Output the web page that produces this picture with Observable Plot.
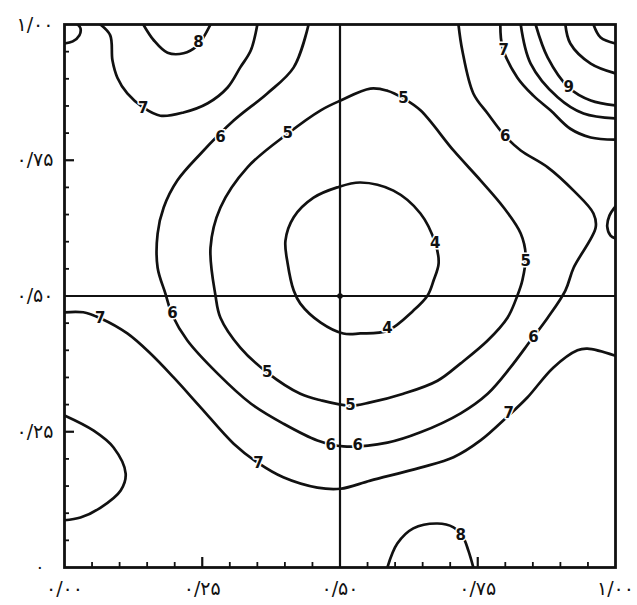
<!DOCTYPE html>
<html>
<head>
<meta charset="utf-8">
<script src="https://cdn.jsdelivr.net/npm/d3@7"></script>
<script src="https://cdn.jsdelivr.net/npm/@observablehq/plot@0.6"></script>
<style>
  body { margin: 0; background: #fff; }
</style>
</head>
<body>
<div id="chart"></div>
<script>
// ---- axis ticks and labels ----
const xTickValues = [0, 0.25, 0.5, 0.75, 1];
const xTickLabels = ["۰/۰۰", "۰/۲۵", "۰/۵۰", "۰/۷۵", "۱/۰۰"];
const yTickValues = [0.25, 0.5, 0.75, 1];
const yTickLabels = ["۰/۲۵", "۰/۵۰", "۰/۷۵", "۱/۰۰"];
const yZeroValue = [0];
const yZeroLabel = "۰";
const minorTicks = [0.05, 0.1, 0.15, 0.2, 0.3, 0.35, 0.4, 0.45, 0.55, 0.6, 0.65, 0.7, 0.8, 0.85, 0.9, 0.95];
const majorTicks = [0.25, 0.75];
const crossLines = [0.5];
const centerPoint = [[0.5, 0.5]];

// ---- contour lines (x, y in data units) ----
// closed loops
const contour4 = [[0.506,0.431],[0.465,0.451],[0.428,0.486],[0.416,0.510],[0.405,0.560],[0.401,0.602],[0.416,0.645],[0.452,0.681],[0.495,0.700],[0.537,0.709],[0.597,0.694],[0.646,0.652],[0.673,0.597],[0.679,0.560],[0.670,0.529],[0.659,0.501],[0.633,0.473],[0.586,0.436],[0.537,0.431]];
const contour5 = [[0.555,0.882],[0.586,0.878],[0.615,0.864],[0.646,0.842],[0.706,0.768],[0.755,0.713],[0.797,0.663],[0.828,0.615],[0.837,0.575],[0.831,0.529],[0.822,0.501],[0.804,0.460],[0.768,0.418],[0.719,0.376],[0.677,0.344],[0.615,0.320],[0.555,0.304],[0.519,0.298],[0.465,0.308],[0.428,0.320],[0.368,0.359],[0.319,0.405],[0.283,0.460],[0.274,0.501],[0.265,0.589],[0.283,0.663],[0.332,0.737],[0.405,0.799],[0.465,0.842],[0.501,0.860]];
// open curves (edge to edge)
const contour6 = [[0.443,1.0],[0.416,0.921],[0.368,0.873],[0.307,0.823],[0.247,0.762],[0.205,0.713],[0.180,0.663],[0.169,0.615],[0.169,0.552],[0.183,0.505],[0.196,0.464],[0.223,0.418],[0.278,0.357],[0.338,0.302],[0.397,0.265],[0.459,0.234],[0.506,0.223],[0.586,0.230],[0.646,0.249],[0.719,0.284],[0.768,0.320],[0.809,0.368],[0.846,0.418],[0.877,0.460],[0.909,0.510],[0.924,0.552],[0.964,0.626],[0.960,0.652],[0.924,0.694],[0.877,0.737],[0.828,0.768],[0.800,0.794],[0.768,0.836],[0.742,0.873],[0.722,0.952],[0.715,1.0]];
const contour7Low = [[0.0,0.470],[0.034,0.470],[0.065,0.459],[0.114,0.431],[0.156,0.394],[0.198,0.350],[0.247,0.295],[0.307,0.228],[0.352,0.192],[0.397,0.166],[0.459,0.147],[0.501,0.145],[0.555,0.160],[0.646,0.184],[0.706,0.203],[0.755,0.234],[0.806,0.280],[0.840,0.313],[0.887,0.368],[0.931,0.400],[0.949,0.403],[1.0,0.390]];
const contour7TopLeft = [[0.065,1.0],[0.083,0.980],[0.087,0.934],[0.096,0.902],[0.114,0.873],[0.143,0.847],[0.174,0.832],[0.216,0.838],[0.260,0.855],[0.296,0.884],[0.319,0.921],[0.338,0.952],[0.350,1.0]];
const contour8Top = [[0.143,1.0],[0.162,0.971],[0.187,0.948],[0.216,0.947],[0.241,0.961],[0.252,0.976],[0.265,1.0]];
const contour7Corner = [[0.0,0.965],[0.015,0.969],[0.027,0.980],[0.029,0.993],[0.024,1.0]];
const contour7Right = [[1.0,0.665],[0.989,0.648],[0.985,0.628],[0.991,0.611],[1.0,0.606]];
const contour8Left = [[0.0,0.280],[0.053,0.252],[0.089,0.221],[0.111,0.173],[0.102,0.142],[0.065,0.110],[0.029,0.092],[0.0,0.087]];
const contour8Bottom = [[0.586,0.0],[0.604,0.044],[0.633,0.072],[0.677,0.081],[0.706,0.074],[0.722,0.059],[0.733,0.031],[0.742,0.0]];
const contour7TopRight = [[0.791,1.0],[0.795,0.958],[0.822,0.902],[0.851,0.869],[0.882,0.842],[0.918,0.808],[0.955,0.792],[1.0,0.788]];
const contour8TopRight = [[0.828,1.0],[0.846,0.928],[0.895,0.866],[0.942,0.836],[1.0,0.827]];
const contour9TopRight = [[0.855,1.0],[0.877,0.939],[0.915,0.884],[0.955,0.860],[1.0,0.851]];
const contour10TopRight = [[0.909,1.0],[0.918,0.965],[0.955,0.928],[1.0,0.910]];
const contour11TopRight = [[0.960,1.0],[0.973,0.976],[1.0,0.965]];

// ---- contour labels ----
const labelText = ["4","4","5","5","5","5","5","6","6","6","6","6","6","7","7","7","7","7","8","8","9"];
const labelX = [0.673,0.586,0.615,0.405,0.837,0.519,0.368,0.283,0.196,0.483,0.532,0.851,0.800,0.065,0.352,0.806,0.143,0.797,0.243,0.719,0.915];
const labelY = [0.597,0.440,0.864,0.799,0.565,0.298,0.359,0.792,0.468,0.225,0.225,0.424,0.794,0.459,0.192,0.284,0.845,0.952,0.967,0.059,0.884];

const closedLoops = [contour4, contour5];
const openLines = [contour6, contour7Low, contour7TopLeft, contour8Top, contour7Corner, contour7Right,
  contour8Left, contour8Bottom, contour7TopRight, contour8TopRight, contour9TopRight, contour10TopRight, contour11TopRight];

const labels = labelText.map((t, i) => ({t, x: labelX[i], y: labelY[i]}));
const xFmt = new Map(xTickValues.map((v, i) => [v, xTickLabels[i]]));
const yFmt = new Map(yTickValues.map((v, i) => [v, yTickLabels[i]]));

const W = 637, H = 605, ML = 64, MR = 22, MT = 24, MB = 38;
const FW = W - ML - MR, FH = H - MT - MB;
const ink = "#111";

const chart = Plot.plot({
  width: W, height: H,
  marginLeft: ML, marginRight: MR, marginTop: MT, marginBottom: MB,
  x: {domain: [0, 1]},
  y: {domain: [0, 1]},
  style: {fontFamily: "DejaVu Sans", background: "#fff", color: ink},
  marks: [
    Plot.axisX(xTickValues, {tickSize: 0, tickPadding: 14, fontSize: 19, tickFormat: d => xFmt.get(d), label: null}),
    Plot.axisY(yTickValues, {tickSize: 0, tickPadding: 11, fontSize: 19, tickFormat: d => yFmt.get(d), label: null}),
    Plot.axisY(yZeroValue, {tickSize: 0, tickPadding: 20, fontSize: 17, tickFormat: () => yZeroLabel, label: null}),
    Plot.tickX(minorTicks, {x: d => d, insetTop: FH - 5, stroke: ink, strokeWidth: 1.8}),
    Plot.tickX(majorTicks, {x: d => d, insetTop: FH - 10, stroke: ink, strokeWidth: 2.2}),
    Plot.tickY(minorTicks, {y: d => d, insetRight: FW - 5, stroke: ink, strokeWidth: 1.8}),
    Plot.tickY(majorTicks, {y: d => d, insetRight: FW - 10, stroke: ink, strokeWidth: 2.2}),
    Plot.ruleX(crossLines, {stroke: ink, strokeWidth: 2.2}),
    Plot.ruleY(crossLines, {stroke: ink, strokeWidth: 2.2}),
    Plot.dot(centerPoint, {x: d => d[0], y: d => d[1], r: 2.8, fill: ink}),
    ...closedLoops.map(c => Plot.line(c, {x: d => d[0], y: d => d[1], curve: "catmull-rom-closed", stroke: ink, strokeWidth: 2.7})),
    ...openLines.map(c => Plot.line(c, {x: d => d[0], y: d => d[1], curve: "catmull-rom", stroke: ink, strokeWidth: 2.7, clip: true})),
    Plot.text(labels, {x: "x", y: "y", text: "t", fontSize: 15, fontWeight: "bold", fill: ink, stroke: "white", strokeWidth: 3}),
    Plot.frame({stroke: ink, strokeWidth: 2.8})
  ]
});
document.getElementById("chart").appendChild(chart);
</script>
</body>
</html>
